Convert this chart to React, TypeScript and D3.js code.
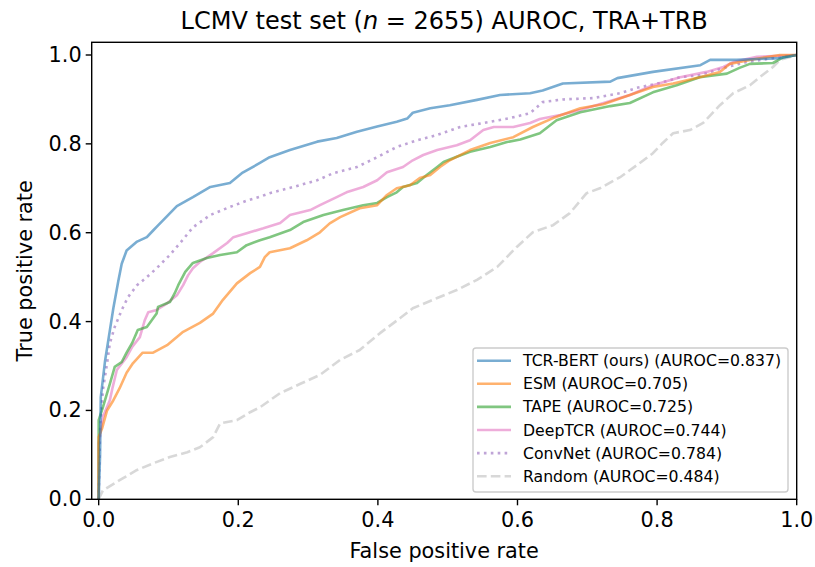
import React from "react";
import * as d3 from "d3";

const W = 815;
const H = 567;

// ROC curves: [fpr, tpr]
const tcrBert: [number, number][] = [
  [0, 0], [0.002, 0.1], [0.003, 0.23], [0.009, 0.31], [0.016, 0.38], [0.021, 0.43],
  [0.028, 0.49], [0.033, 0.53], [0.04, 0.56], [0.055, 0.58], [0.069, 0.59], [0.078, 0.605],
  [0.083, 0.613], [0.112, 0.66], [0.135, 0.68], [0.16, 0.703], [0.188, 0.712], [0.205, 0.734],
  [0.231, 0.757], [0.245, 0.77], [0.274, 0.786], [0.313, 0.805], [0.341, 0.813], [0.37, 0.827],
  [0.399, 0.839], [0.427, 0.85], [0.442, 0.857], [0.45, 0.87], [0.475, 0.88], [0.503, 0.887],
  [0.542, 0.899], [0.575, 0.91], [0.618, 0.914], [0.636, 0.92], [0.665, 0.936], [0.733, 0.94],
  [0.743, 0.948], [0.794, 0.962], [0.862, 0.977], [0.876, 0.989], [0.914, 0.989], [0.976, 0.993],
  [1, 1],
];

const esm: [number, number][] = [
  [0, 0], [0, 0.14], [0.005, 0.16], [0.012, 0.2], [0.02, 0.22], [0.03, 0.25], [0.04, 0.285],
  [0.049, 0.306], [0.063, 0.33], [0.078, 0.33], [0.098, 0.347], [0.121, 0.377], [0.145, 0.397],
  [0.164, 0.418], [0.178, 0.449], [0.198, 0.486], [0.217, 0.509], [0.231, 0.523], [0.238, 0.545],
  [0.245, 0.556], [0.274, 0.565], [0.298, 0.583], [0.317, 0.601], [0.331, 0.621], [0.346, 0.635],
  [0.374, 0.655], [0.399, 0.662], [0.413, 0.685], [0.427, 0.7], [0.446, 0.707], [0.46, 0.723],
  [0.475, 0.73], [0.489, 0.748], [0.503, 0.763], [0.532, 0.786], [0.561, 0.802], [0.594, 0.815],
  [0.622, 0.838], [0.651, 0.858], [0.69, 0.88], [0.723, 0.889], [0.761, 0.91], [0.794, 0.928],
  [0.823, 0.936], [0.861, 0.95], [0.89, 0.962], [0.904, 0.98], [0.937, 0.99], [0.976, 1.0], [1, 1],
];

const tape: [number, number][] = [
  [0, 0], [0, 0.178], [0.006, 0.207], [0.016, 0.26], [0.023, 0.298], [0.033, 0.309], [0.04, 0.33],
  [0.048, 0.352], [0.056, 0.381], [0.069, 0.388], [0.083, 0.418], [0.085, 0.433], [0.102, 0.444],
  [0.109, 0.464], [0.114, 0.482], [0.124, 0.512], [0.135, 0.532], [0.155, 0.543], [0.174, 0.55],
  [0.198, 0.556], [0.212, 0.572], [0.231, 0.583], [0.245, 0.59], [0.274, 0.606], [0.293, 0.624],
  [0.322, 0.64], [0.35, 0.651], [0.379, 0.662], [0.399, 0.667], [0.413, 0.68], [0.427, 0.691],
  [0.436, 0.703], [0.456, 0.712], [0.47, 0.73], [0.485, 0.748], [0.494, 0.759], [0.513, 0.771],
  [0.532, 0.782], [0.561, 0.793], [0.585, 0.804], [0.604, 0.81], [0.632, 0.824], [0.656, 0.853],
  [0.69, 0.871], [0.733, 0.885], [0.761, 0.892], [0.794, 0.916], [0.828, 0.932], [0.861, 0.95],
  [0.9, 0.958], [0.918, 0.971], [0.933, 0.98], [0.966, 0.982], [0.981, 0.995], [1, 1],
];

const deepTcr: [number, number][] = [
  [0, 0], [0, 0.126], [0.006, 0.185], [0.016, 0.223], [0.02, 0.252], [0.026, 0.291], [0.04, 0.32],
  [0.048, 0.343], [0.059, 0.365], [0.066, 0.403], [0.071, 0.421], [0.083, 0.426], [0.098, 0.441],
  [0.112, 0.459], [0.121, 0.482], [0.128, 0.504], [0.135, 0.52], [0.145, 0.534], [0.164, 0.554],
  [0.184, 0.577], [0.193, 0.59], [0.212, 0.599], [0.236, 0.61], [0.26, 0.622], [0.274, 0.64],
  [0.303, 0.651], [0.317, 0.662], [0.341, 0.68], [0.355, 0.691], [0.379, 0.703], [0.399, 0.718],
  [0.413, 0.736], [0.436, 0.748], [0.45, 0.763], [0.465, 0.775], [0.485, 0.786], [0.513, 0.797],
  [0.532, 0.808], [0.551, 0.831], [0.566, 0.838], [0.594, 0.838], [0.618, 0.847], [0.632, 0.856],
  [0.661, 0.865], [0.69, 0.876], [0.728, 0.894], [0.761, 0.91], [0.794, 0.932], [0.833, 0.95],
  [0.871, 0.962], [0.895, 0.973], [0.909, 0.984], [0.943, 0.996], [1, 1],
];

const convNet: [number, number][] = [
  [0, 0], [0.002, 0.156], [0.006, 0.246], [0.012, 0.306], [0.016, 0.351], [0.023, 0.388],
  [0.033, 0.426], [0.042, 0.455], [0.055, 0.482], [0.069, 0.5], [0.083, 0.52], [0.102, 0.55],
  [0.121, 0.585], [0.135, 0.612], [0.16, 0.64], [0.188, 0.658], [0.212, 0.672], [0.231, 0.681],
  [0.245, 0.689], [0.279, 0.703], [0.313, 0.718], [0.336, 0.734], [0.37, 0.748], [0.399, 0.77],
  [0.427, 0.793], [0.456, 0.808], [0.485, 0.82], [0.518, 0.838], [0.551, 0.847], [0.589, 0.858],
  [0.618, 0.869], [0.636, 0.894], [0.665, 0.9], [0.708, 0.903], [0.747, 0.914], [0.771, 0.926],
  [0.804, 0.937], [0.833, 0.95], [0.861, 0.955], [0.9, 0.973], [0.928, 0.984], [0.966, 0.993],
  [1, 1],
];

const randomCurve: [number, number][] = [
  [0, 0], [0.006, 0.02], [0.03, 0.043], [0.055, 0.066], [0.078, 0.081], [0.102, 0.095],
  [0.127, 0.106], [0.145, 0.117], [0.164, 0.14], [0.174, 0.171], [0.198, 0.178], [0.217, 0.196],
  [0.231, 0.207], [0.26, 0.239], [0.289, 0.26], [0.317, 0.28], [0.346, 0.314], [0.374, 0.336],
  [0.403, 0.374], [0.432, 0.408], [0.45, 0.43], [0.485, 0.453], [0.513, 0.471], [0.542, 0.494],
  [0.571, 0.523], [0.599, 0.568], [0.622, 0.601], [0.651, 0.617], [0.675, 0.644], [0.699, 0.689],
  [0.718, 0.7], [0.747, 0.725], [0.771, 0.752], [0.794, 0.779], [0.808, 0.802], [0.823, 0.824],
  [0.847, 0.831], [0.866, 0.847], [0.89, 0.887], [0.909, 0.914], [0.933, 0.932], [0.947, 0.95],
  [0.966, 0.973], [0.976, 0.989], [1, 1],
];

const seriesNames = [
  "TCR-BERT (ours) (AUROC=0.837)",
  "ESM (AUROC=0.705)",
  "TAPE (AUROC=0.725)",
  "DeepTCR (AUROC=0.744)",
  "ConvNet (AUROC=0.784)",
  "Random (AUROC=0.484)",
];
const seriesData = [tcrBert, esm, tape, deepTcr, convNet, randomCurve];
const seriesColors = ["#1f77b4", "#ff7f0e", "#2ca02c", "#e377c2", "#9467bd", "#b8b8b8"];
const seriesDash = ["", "", "", "", "2.6,4.3", "9.6,4.2"];

const xTicks = [0, 0.2, 0.4, 0.6, 0.8, 1.0];
const yTicks = [0, 0.2, 0.4, 0.6, 0.8, 1.0];

const LW = 2.6;
const FONT = "DejaVu Sans, sans-serif";
const TICK_FS = 20.8;
const LABEL_FS = 20.8;
const LEGEND_FS = 15.7;
const TITLE_FS = 24;

export default function App() {
  const left = 91.7, right = 796.7, top = 42.3, bottom = 499.3;
  const x = d3.scaleLinear().domain([-0.01, 1.0]).range([left, right]);
  const y = d3.scaleLinear().domain([0, 1.0]).range([bottom, 55]);
  const line = d3
    .line<[number, number]>()
    .x((d) => x(d[0]))
    .y((d) => y(d[1]));

  const legX = 473, legY = 348, legW = 315, legH = 144;
  const rowY = (i: number) => 360.7 + i * 23.1;

  return (
    <svg
      width={W}
      height={H}
      style={{ position: "absolute", left: 0, top: 0, background: "#fff" }}
      fontFamily={FONT}
    >
      <rect x={0} y={0} width={W} height={H} fill="#fff" />
      <defs>
        <clipPath id="plotclip">
          <rect x={left} y={top} width={right - left} height={bottom - top} />
        </clipPath>
      </defs>

      {/* curves */}
      <g clipPath="url(#plotclip)">
        {seriesData
          .map((d, i) => ({ d, i }))
          .reverse()
          .map(({ d, i }) => (
            <path
              key={i}
              d={line(d) || ""}
              fill="none"
              stroke={seriesColors[i]}
              strokeOpacity={i === 5 ? 0.55 : 0.6}
              strokeWidth={LW}
              strokeDasharray={seriesDash[i] || undefined}
              strokeLinejoin="round"
            />
          ))}
      </g>

      {/* spines */}
      <rect
        x={left}
        y={top}
        width={right - left}
        height={bottom - top}
        fill="none"
        stroke="#000"
        strokeWidth={1.4}
      />

      {/* x ticks */}
      {xTicks.map((t) => (
        <g key={"x" + t}>
          <line x1={x(t)} x2={x(t)} y1={bottom} y2={bottom + 6} stroke="#000" strokeWidth={1.4} />
          <text x={x(t)} y={bottom + 27.5} fontSize={TICK_FS} textAnchor="middle" fill="#000">
            {t.toFixed(1)}
          </text>
        </g>
      ))}
      {/* y ticks */}
      {yTicks.map((t) => (
        <g key={"y" + t}>
          <line x1={left - 6} x2={left} y1={y(t)} y2={y(t)} stroke="#000" strokeWidth={1.4} />
          <text
            x={left - 10}
            y={y(t)}
            fontSize={TICK_FS}
            textAnchor="end"
            dominantBaseline="central"
            fill="#000"
          >
            {t.toFixed(1)}
          </text>
        </g>
      ))}

      {/* axis labels */}
      <text x={(left + right) / 2} y={558} fontSize={LABEL_FS} textAnchor="middle" fill="#000">
        False positive rate
      </text>
      <text
        transform={`translate(32, ${(top + bottom) / 2}) rotate(-90)`}
        fontSize={LABEL_FS}
        textAnchor="middle"
        fill="#000"
      >
        True positive rate
      </text>

      {/* title */}
      <text x={(left + right) / 2} y={29} fontSize={TITLE_FS} textAnchor="middle" fill="#000">
        <tspan>LCMV test set (</tspan>
        <tspan fontStyle="italic">n</tspan>
        <tspan> = 2655) AUROC, TRA+TRB</tspan>
      </text>

      {/* legend */}
      <rect
        x={legX}
        y={legY}
        width={legW}
        height={legH}
        rx={3}
        fill="#fff"
        fillOpacity={0.8}
        stroke="#cccccc"
        strokeWidth={1.4}
      />
      {seriesNames.map((name, i) => (
        <g key={name}>
          <line
            x1={477}
            x2={511}
            y1={rowY(i)}
            y2={rowY(i)}
            stroke={seriesColors[i]}
            strokeOpacity={i === 5 ? 0.55 : 0.6}
            strokeWidth={LW}
            strokeDasharray={seriesDash[i] || undefined}
          />
          <text x={523} y={rowY(i)} fontSize={LEGEND_FS} dominantBaseline="central" fill="#000">
            {name}
          </text>
        </g>
      ))}
    </svg>
  );
}
